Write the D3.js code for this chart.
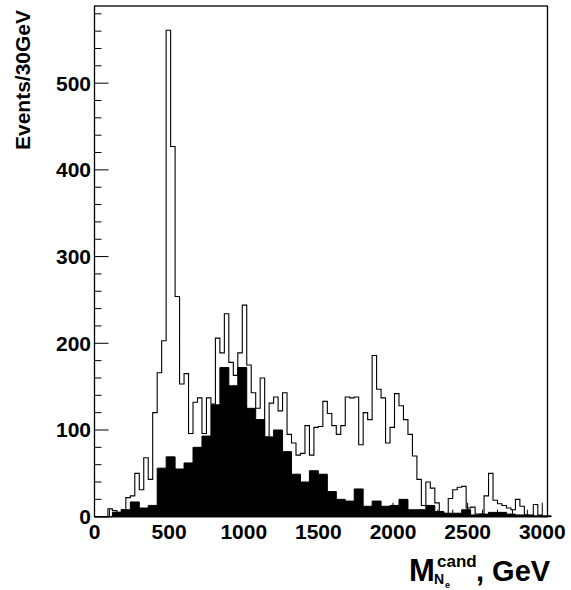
<!DOCTYPE html>
<html>
<head>
<meta charset="utf-8">
<script src="https://cdn.jsdelivr.net/npm/d3@7"></script>
<style>
  html, body { margin: 0; padding: 0; background: #fff; }
  svg { display: block; }
  text { font-family: "Liberation Sans", Arial, Helvetica, sans-serif; font-weight: bold; fill: #000; }
</style>
</head>
<body>
<svg id="chart" width="571" height="590"></svg>
<script>
// Open histogram: candidate mass, 30 GeV bins starting at 0
const openBinWidth = 30;
const openCounts = [
  0, 0, 0, 9, 7, 5, 8, 22, 24, 50,
  31, 68, 43, 120, 166, 203, 561, 427, 254, 153,
  165, 96, 132, 137, 96, 137, 130, 206, 189, 234,
  178, 163, 189, 244, 175, 143, 125, 160, 92, 131,
  138, 122, 143, 95, 85, 71, 73, 105, 71, 103,
  104, 133, 119, 105, 95, 105, 138, 137, 138, 83,
  120, 112, 186, 147, 137, 85, 103, 142, 128, 112,
  95, 70, 43, 13, 40, 33, 16, 5, 3, 21,
  31, 34, 35, 10, 11, 3, 3, 24, 50, 19,
  15, 13, 10, 8, 20, 12, 2, 1, 14, 2,
  0
];

// Filled histogram: 60 GeV bins starting at 0
const filledBinWidth = 60;
const filledCounts = [
  0, 0, 5, 8, 17, 10, 13, 56, 69, 55,
  62, 80, 93, 129, 172, 151, 172, 125, 112, 92,
  100, 75, 49, 40, 53, 49, 29, 20, 18, 32,
  12, 18, 12, 13, 20, 8, 8, 13, 6, 4,
  4, 8, 2, 3, 5, 5, 3, 2, 2, 1,
  1
];

const xTickValues = [0, 500, 1000, 1500, 2000, 2500, 3000];
const yTickValues = [0, 100, 200, 300, 400, 500];
const yAxisTitle = "Events/30GeV";

const svg = d3.select("#chart");

const x = d3.scaleLinear().domain([0, 3035]).range([94.5, 547.5]);
const y = d3.scaleLinear().domain([0, 589]).range([516.7, 6]);

// Build a step outline for a histogram
function stepPath(counts, width, closed) {
  const p = d3.path();
  p.moveTo(x(0), y(0));
  counts.forEach((c, i) => {
    p.lineTo(x(i * width), y(c));
    p.lineTo(x((i + 1) * width), y(c));
  });
  p.lineTo(x(counts.length * width), y(0));
  if (closed) p.closePath();
  return p.toString();
}

// Filled histogram
svg.append("path")
  .attr("d", stepPath(filledCounts, filledBinWidth, true))
  .attr("fill", "#000")
  .attr("stroke", "#000")
  .attr("stroke-width", 1);

// Open histogram
svg.append("path")
  .attr("d", stepPath(openCounts, openBinWidth, false))
  .attr("fill", "none")
  .attr("stroke", "#000")
  .attr("stroke-width", 1.1);

// Frame
const [x0, x1] = x.range();
const [y0, y1] = y.range();
svg.append("rect")
  .attr("x", x0).attr("y", y1)
  .attr("width", x1 - x0).attr("height", y0 - y1)
  .attr("fill", "none").attr("stroke", "#000").attr("stroke-width", 1.3);

// Y axis: ticks pointing into the frame
const yMinor = d3.range(0, 589, 20);
svg.append("g").selectAll("line").data(yMinor).join("line")
  .attr("x1", x0).attr("x2", d => x0 + (d % 100 === 0 ? 14 : 7))
  .attr("y1", d => y(d)).attr("y2", d => y(d))
  .attr("stroke", "#000").attr("stroke-width", 1);

svg.append("g").selectAll("text").data(yTickValues).join("text")
  .attr("x", 91).attr("y", d => y(d) + 7.5)
  .attr("text-anchor", "end")
  .attr("font-size", 21)
  .text(d => d);

// X axis: ticks pointing into the frame
const xMinor = d3.range(0, 3035, 100);
svg.append("g").selectAll("line").data(xMinor).join("line")
  .attr("x1", d => x(d)).attr("x2", d => x(d))
  .attr("y1", y0).attr("y2", d => y0 - (d % 500 === 0 ? 14 : 7))
  .attr("stroke", "#000").attr("stroke-width", 1);

svg.append("g").selectAll("text").data(xTickValues).join("text")
  .attr("x", d => x(d)).attr("y", 539)
  .attr("text-anchor", "middle")
  .attr("font-size", 21)
  .text(d => d);

// Axis titles
svg.append("text")
  .attr("transform", "translate(30,80) rotate(-90)")
  .attr("text-anchor", "middle")
  .attr("font-size", 21)
  .text(yAxisTitle);

const xt = svg.append("g");
xt.append("text").attr("x", 409).attr("y", 581).attr("font-size", 31).text("M");
xt.append("text").attr("x", 437).attr("y", 567).attr("font-size", 17).text("cand");
xt.append("text").attr("x", 434).attr("y", 584).attr("font-size", 14).text("N");
xt.append("text").attr("x", 445).attr("y", 588).attr("font-size", 9).text("e");
xt.append("text").attr("x", 476).attr("y", 581).attr("font-size", 29).text(", GeV");
</script>
</body>
</html>
